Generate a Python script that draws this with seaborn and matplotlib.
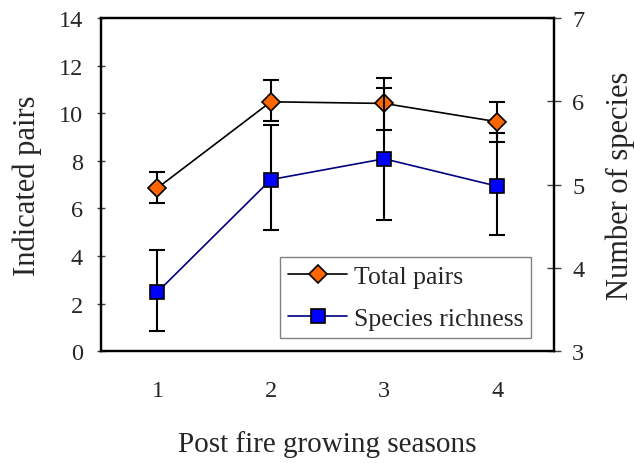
import pandas as pd
import seaborn as sns
import matplotlib.pyplot as plt

sns.set_style('white')
plt.rcParams['font.family'] = ['Liberation Serif', 'DejaVu Serif']
plt.rcParams['font.size'] = 17.5

# values
seasons = [1, 2, 3, 4]
total_pairs = [6.86, 10.48, 10.41, 9.64]
pairs_upper = [7.54, 11.39, 11.50, 10.48]
pairs_lower = [6.21, 9.66, 9.29, 8.81]
richness = [3.71, 5.06, 5.31, 4.98]
rich_upper = [4.22, 5.71, 6.16, 5.62]
rich_lower = [3.24, 4.46, 4.58, 4.39]

df = pd.DataFrame({'season': seasons, 'pairs': total_pairs, 'richness': richness})

fig = plt.figure(figsize=(6.34, 4.64), dpi=100)
ax = fig.add_axes([0.159, 0.241, 0.715, 0.718])
ax2 = ax.twinx()

err_p = [[m - lo for m, lo in zip(total_pairs, pairs_lower)],
         [hi - m for m, hi in zip(total_pairs, pairs_upper)]]
err_r = [[m - lo for m, lo in zip(richness, rich_lower)],
         [hi - m for m, hi in zip(richness, rich_upper)]]

ax.errorbar(seasons, total_pairs, yerr=err_p, fmt='none', ecolor='black',
            elinewidth=1.5, capsize=6, capthick=1.5, zorder=1)
sns.lineplot(data=df, x='season', y='pairs', ax=ax, color='black', lw=1.2,
             marker='D', ms=9, markerfacecolor='#FF6600', markeredgecolor='black',
             markeredgewidth=1.2, label='Total pairs', legend=False, zorder=2)

ax2.errorbar(seasons, richness, yerr=err_r, fmt='none', ecolor='black',
             elinewidth=1.5, capsize=6, capthick=1.5, zorder=1)
sns.lineplot(data=df, x='season', y='richness', ax=ax2, color='#000080', lw=1.2,
             marker='s', ms=10.5, markerfacecolor='#0000FF', markeredgecolor='black',
             markeredgewidth=1.2, label='Species richness', legend=False, zorder=2)

ax.set_xlim(0.5, 4.5)
ax.set_ylim(0, 14)
ax2.set_ylim(3, 7)
ax.set_yticks(range(0, 15, 2))
ax2.set_yticks(range(3, 8))

ax.set_xticks([0.5, 1.5, 2.5, 3.5, 4.5])
ax.set_xticklabels([])
ax.set_xticks(seasons, minor=True)
ax.set_xticklabels([str(s) for s in seasons], minor=True)
ax.tick_params(axis='x', which='major', direction='inout', length=10, width=1, color='#404040')
ax.tick_params(axis='x', which='minor', length=0, pad=21)
ax.tick_params(axis='y', direction='inout', length=6, width=1, color='#404040', pad=10)
ax2.tick_params(axis='y', direction='inout', length=10, width=1, color='#404040', pad=8)

for a in (ax, ax2):
    for sp in a.spines.values():
        sp.set_color('black')
        sp.set_linewidth(1.6)

ax.set_xlabel('Post fire growing seasons', fontsize=21, labelpad=21)
ax.set_ylabel('Indicated pairs', fontsize=22, labelpad=12)
ax2.set_ylabel('Number of species', fontsize=22, labelpad=15)

h1, l1 = ax.get_legend_handles_labels()
h2, l2 = ax2.get_legend_handles_labels()
leg = ax2.legend(h1 + h2, l1 + l2, loc='lower right', bbox_to_anchor=(0.95, 0.04),
                 fontsize=18.5, frameon=True, fancybox=False, edgecolor='#808080',
                 framealpha=1, handlelength=2.3, handletextpad=0.25,
                 labelspacing=0.72, borderpad=0.32, borderaxespad=0, numpoints=1)
leg.get_frame().set_linewidth(1)

plt.savefig('out.png', dpi=100)
